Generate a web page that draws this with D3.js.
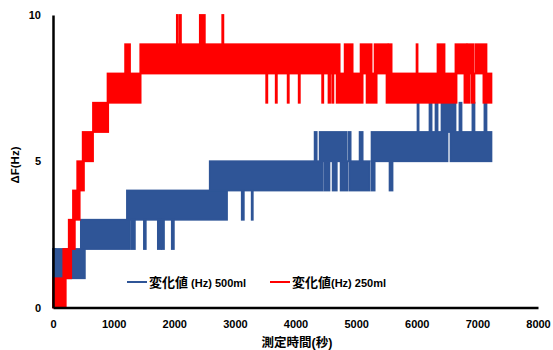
<!DOCTYPE html>
<meta charset="utf-8">
<style>
body { margin: 0; background: #fff; }
text { font-family: "Liberation Sans", "Noto Sans CJK JP", sans-serif; font-weight: bold; fill: #000; }
.axis path { stroke: #000; stroke-width: 2.5px; }
.axis text { font-size: 11px; }
</style>
<svg width="553" height="350"></svg>
<script src="https://cdn.jsdelivr.net/npm/d3@7/dist/d3.min.js"></script>
<script>
// x tick values and y tick values
var xTicks = [0, 1000, 2000, 3000, 4000, 5000, 6000, 7000, 8000];
var yTicks = [0, 5, 10];

// each band: [start sec, end sec, low Hz, high Hz] - the signal flickers between low and high
var blueBands = [
  [0, 40, 0, 2], [0, 525, 1, 2], [460, 1270, 2, 3],
  [1220, 2870, 3, 4], [1300, 1350, 2, 3], [1500, 1530, 2, 3], [1730, 1780, 2, 3],
  [1796, 1830, 2, 3], [1960, 1993, 2, 3],
  [2586, 4450, 4, 5], [3114, 3147, 3, 4], [3278, 3295, 3, 4],
  [4316, 4349, 5, 6], [4480, 4560, 4, 5], [4613, 4680, 4, 5], [4745, 4860, 4, 5],
  [4893, 5222, 4, 5], [5255, 5305, 4, 5], [5552, 5600, 4, 5],
  [4399, 4843, 5, 6], [4876, 4909, 5, 6], [5058, 5107, 5, 6],
  [5255, 6507, 5, 6], [6557, 7232, 5, 6],
  [6013, 6030, 6, 7], [6211, 6244, 6, 7], [6310, 6343, 6, 7], [6409, 6639, 6, 7],
  [6705, 6738, 6, 7], [6919, 6952, 6, 7], [7117, 7150, 6, 7]
];

var redBands = [
  [0, 210, 0, 1], [170, 300, 1, 2], [260, 360, 2, 3], [330, 440, 3, 4],
  [400, 510, 4, 5], [490, 660, 5, 6], [660, 910, 6, 7], [900, 1445, 7, 8],
  [1190, 1270, 8, 9], [1440, 4728, 8, 9],
  [2043, 2060, 9, 10], [2092, 2110, 9, 10], [2422, 2504, 9, 10], [2792, 2810, 9, 10],
  [3517, 3535, 7, 8], [3674, 3692, 7, 8], [3871, 3889, 7, 8], [4053, 4071, 7, 8],
  [4440, 4458, 7, 8], [4545, 4570, 7, 8], [4605, 4625, 7, 8],
  [4679, 5107, 7, 8], [5173, 5338, 7, 8], [5502, 6656, 7, 8],
  [6787, 6870, 7, 8], [6903, 6952, 7, 8], [7100, 7232, 7, 8],
  [4811, 4942, 8, 9], [5074, 5255, 8, 9], [5305, 5519, 8, 9], [5536, 5585, 8, 9],
  [5997, 6013, 8, 9], [6343, 6458, 8, 9], [6639, 6820, 8, 9], [6837, 6936, 8, 9],
  [6969, 7150, 8, 9]
];

var series = [
  {name: "500ml", label: ["変化値", " (Hz) 500ml"], color: "#2f5597", bands: blueBands},
  {name: "250ml", label: ["変化値", "(Hz) 250ml"], color: "#ff0000", bands: redBands}
];

var svg = d3.select("svg");

var x = d3.scaleLinear().domain([0, 8000]).range([53, 538]),
    y = d3.scaleLinear().domain([0, 10]).range([307.5, 15]);

var plot = svg.append("g");

series.forEach(function(s) {
  plot.append("g").selectAll("rect")
    .data(s.bands)
    .enter().append("rect")
      .attr("x", function(d) { return x(d[0]); })
      .attr("width", function(d) { return Math.max(0.5, x(d[1]) - x(d[0])); })
      .attr("y", function(d) { return y(d[3]); })
      .attr("height", function(d) { return y(d[2]) - y(d[3]); })
      .attr("fill", s.color)
      .attr("stroke", s.color)
      .attr("stroke-width", 1.8);
});

svg.append("g")
    .attr("class", "axis")
    .attr("transform", "translate(0," + y(0) + ")")
    .call(d3.axisBottom(x).tickValues(xTicks).tickFormat(d3.format("d")).tickSize(0).tickPadding(13))
  .selectAll("text").attr("dy", "0.71em");

svg.append("g")
    .attr("class", "axis")
    .attr("transform", "translate(" + x(0) + ",0)")
    .call(d3.axisLeft(y).tickValues(yTicks).tickSize(0).tickPadding(12));

svg.append("text")
    .attr("x", 297)
    .attr("y", 347)
    .attr("text-anchor", "middle")
    .style("font-size", "12.5px")
    .text("測定時間(秒)");

svg.append("text")
    .attr("transform", "translate(19,165) rotate(-90)")
    .attr("text-anchor", "middle")
    .style("font-size", "11.5px")
    .text("ΔF(Hz)");

// legend
var legendX = [127, 270];
var legend = svg.selectAll(".legend")
  .data(series)
  .enter().append("g")
    .attr("class", "legend")
    .attr("transform", function(d, i) { return "translate(" + legendX[i] + ",282)"; });

legend.append("line")
    .attr("x1", 0).attr("x2", 20)
    .attr("stroke", function(d) { return d.color; })
    .attr("stroke-width", 2);

var lt = legend.append("text")
    .attr("x", 22)
    .attr("y", 4.5);
lt.append("tspan")
    .style("font-size", "13px")
    .style("font-family", "'Noto Sans CJK JP'")
    .text(function(d) { return d.label[0]; });
lt.append("tspan")
    .style("font-size", "11px")
    .text(function(d) { return d.label[1]; });
</script>
